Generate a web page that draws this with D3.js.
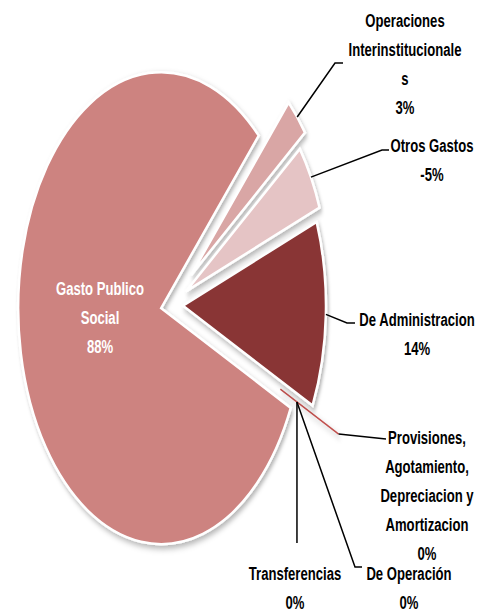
<!DOCTYPE html>
<html>
<head>
<meta charset="utf-8">
<script src="https://cdn.jsdelivr.net/npm/d3@7"></script>
<style>
  body { margin: 0; background: #fff; }
  text { font-family: "Liberation Sans", Arial, sans-serif; font-weight: bold; font-size: 19px; }
</style>
</head>
<body>
<div id="chart"></div>
<script>
// data, clockwise starting at De Administracion
var categories = ["De Administracion", "Provisiones, Agotamiento, Depreciacion y Amortizacion",
                  "De Operación", "Transferencias", "Gasto Publico Social",
                  "Operaciones Interinstitucionales", "Otros Gastos"];
var values = [14, 0, 0, 0, 88, 3, -5];
var pctLabels = ["14%", "0%", "0%", "0%", "88%", "3%", "-5%"];
// label text split the way the chart wraps it
var labelLines = [
  ["De Administracion"],
  ["Provisiones,", "Agotamiento,", "Depreciacion y", "Amortizacion"],
  ["De Operación"],
  ["Transferencias"],
  ["Gasto Publico", "Social"],
  ["Operaciones", "Interinstitucionale", "s"],
  ["Otros Gastos"]
];

// layout
var width = 484, height = 612;
var cx = 171, cy = 305, radius = 143, squash = 1.65;
var startDeg = 69.2;
var colors = ["#893535", "#C0504D", "#C0504D", "#C0504D", "#CD8380", "#D9A6A5", "#E5C4C5"];
var explode = [12, 42, -4, -4, 10, 27, 17];
var textSquash = 0.69;
// label anchor x, first baseline y, and leader elbow points
var labelPos = [
  {x: 417, y: 326, elbow: [[347, 323], [355, 323]]},
  {x: 427, y: 444, elbow: [[386, 439]]},
  {x: 409, y: 580, elbow: [[355, 567], [362, 567]]},
  {x: 295, y: 580, elbow: [[296, 543]]},
  {x: 100, y: 295, elbow: null},
  {x: 405, y: 27, elbow: [[335, 63], [343, 63]]},
  {x: 432, y: 152, elbow: [[382, 150], [389, 150]]}
];
var lineH = 29;

var svg = d3.select("#chart")
  .append("svg")
    .attr("width", width)
    .attr("height", height);

var defs = svg.append("defs");
var shadow = defs.append("filter")
    .attr("id", "shadow")
    .attr("x", "-20%").attr("y", "-20%")
    .attr("width", "140%").attr("height", "140%");
shadow.append("feDropShadow")
    .attr("dx", 1.5).attr("dy", 2)
    .attr("stdDeviation", 1.8)
    .attr("flood-color", "#000")
    .attr("flood-opacity", 0.3);

var pie = d3.pie()
  .sort(null)
  .value(function(d) { return Math.abs(d); })
  .startAngle(startDeg * Math.PI / 180)
  .endAngle(startDeg * Math.PI / 180 + 2 * Math.PI);

var arcs = pie(values);
var arc = d3.arc().innerRadius(0).outerRadius(radius);

function mid(a) { return (a.startAngle + a.endAngle) / 2; }
function toScreen(p) { return [cx + p[0], cy + p[1] * squash]; }

var pieG = svg.append("g")
  .attr("transform", "translate(" + cx + "," + cy + ") scale(1," + squash + ")");

// zero slice that still shows as a thin line (Provisiones)
pieG.append("line")
  .datum(arcs[1])
  .attr("x1", function(d) { return d3.pointRadial(mid(d), radius * 0.55 + explode[1])[0]; })
  .attr("y1", function(d) { return d3.pointRadial(mid(d), radius * 0.55 + explode[1])[1]; })
  .attr("x2", function(d) { return d3.pointRadial(mid(d), radius + explode[1])[0]; })
  .attr("y2", function(d) { return d3.pointRadial(mid(d), radius + explode[1])[1]; })
  .attr("stroke", colors[1])
  .attr("stroke-width", 1.5)
  .attr("vector-effect", "non-scaling-stroke")
  .attr("filter", "url(#shadow)");

// slices
pieG.selectAll("path.slice")
  .data(arcs.filter(function(d) { return d.endAngle - d.startAngle > 0; }))
  .enter()
  .append("path")
    .attr("class", "slice")
    .attr("transform", function(d) {
      var o = d3.pointRadial(mid(d), explode[d.index]);
      return "translate(" + o[0] + "," + o[1] + ")";
    })
    .attr("d", arc)
    .attr("fill", function(d) { return colors[d.index]; })
    .attr("stroke", "#fff")
    .attr("stroke-width", 2.5)
    .attr("stroke-linejoin", "miter")
    .attr("vector-effect", "non-scaling-stroke")
    .attr("filter", "url(#shadow)");

// leader lines
arcs.forEach(function(d, i) {
  if (!labelPos[i].elbow) return;
  var anchor = toScreen(d3.pointRadial(mid(d), radius + explode[i]));
  var pts = labelPos[i].elbow.slice();
  if (categories[i] === "Transferencias") pts = [[anchor[0], pts[0][1]]]; // straight down
  svg.append("path")
    .attr("d", d3.line()([anchor].concat(pts)))
    .attr("fill", "none")
    .attr("stroke", "#000")
    .attr("stroke-width", 1.5);
});

// labels
arcs.forEach(function(d, i) {
  var lines = labelLines[i].concat([pctLabels[i]]);
  var t = svg.append("text")
    .attr("text-anchor", "middle")
    .attr("transform", "translate(" + labelPos[i].x + "," + labelPos[i].y + ") scale(" + textSquash + ",1)")
    .attr("fill", i === 4 ? "#fff" : "#000");
  lines.forEach(function(s, k) {
    t.append("tspan")
      .attr("x", 0)
      .attr("y", k * lineH)
      .text(s);
  });
});
</script>
</body>
</html>
